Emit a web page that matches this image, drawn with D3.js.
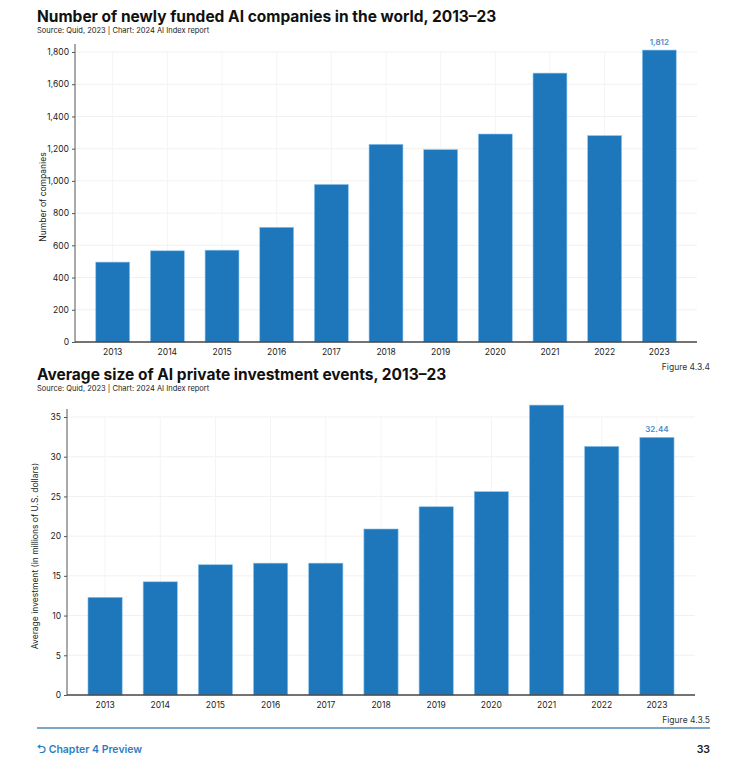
<!DOCTYPE html>
<html>
<head>
<meta charset="utf-8">
<script src="https://cdn.jsdelivr.net/npm/d3@7"></script>
<style>
  body { margin: 0; background: #fff; font-family: Inter, "Open Sans", sans-serif; }
</style>
</head>
<body>
<svg width="740" height="778"></svg>
<script>
// data
const years = ["2013","2014","2015","2016","2017","2018","2019","2020","2021","2022","2023"];
const companies = [496, 566, 570, 712, 978, 1227, 1194, 1291, 1669, 1281, 1812];
const avgInvestment = [12.3, 14.25, 16.4, 16.6, 16.6, 20.9, 23.7, 25.6, 36.5, 31.3, 32.44];
const companyTicks = [0, 200, 400, 600, 800, 1000, 1200, 1400, 1600, 1800];
const investTicks = [0, 5, 10, 15, 20, 25, 30, 35];

const svg = d3.select("svg");
const barColor = "#1f77bb";
const labelColor = "#4a8ac8";

// draws one bar chart panel
function drawPanel(opt) {
  const g = svg.append("g");
  g.append("text").attr("x", opt.titleX).attr("y", opt.titleY)
    .attr("font-size", 15.5).attr("font-weight", 700).attr("fill", "#111")
    .text(opt.title);
  g.append("text").attr("x", opt.titleX).attr("y", opt.titleY + 11)
    .attr("font-size", 7.5).attr("fill", "#222")
    .text("Source: Quid, 2023 | Chart: 2024 AI Index report");

  const x = d3.scaleBand().domain(years).range([opt.left, opt.right]).padding(0.38);
  const y = d3.scaleLinear().domain(opt.domain).range([opt.bottom, opt.top]);

  // faint gridlines
  g.selectAll(".grid").data(opt.ticks.slice(1)).join("line")
    .attr("x1", opt.left).attr("x2", opt.right)
    .attr("y1", d => y(d)).attr("y2", d => y(d))
    .attr("stroke", "#f1f1f1");
  g.selectAll(".vgrid").data(years).join("line")
    .attr("x1", d => x(d) + x.bandwidth() / 2).attr("x2", d => x(d) + x.bandwidth() / 2)
    .attr("y1", opt.top).attr("y2", opt.bottom)
    .attr("stroke", "#f4f4f4");

  g.selectAll(".bar").data(opt.values).join("rect")
    .attr("x", (d, i) => x(years[i]))
    .attr("y", d => y(d))
    .attr("width", x.bandwidth())
    .attr("height", d => opt.bottom - y(d))
    .attr("fill", barColor)
    .attr("stroke", "#8cc4ee").attr("stroke-width", 0.6);

  const last = opt.values.length - 1;
  g.append("text")
    .attr("x", x(years[last]) + x.bandwidth() / 2)
    .attr("y", y(opt.values[last]) - 5)
    .attr("text-anchor", "middle").attr("font-size", 8).attr("font-weight", 600)
    .attr("fill", labelColor).text(opt.labelFmt(opt.values[last]));

  const yAxis = g.append("g").attr("transform", `translate(${opt.left},0)`)
    .call(d3.axisLeft(y).tickValues(opt.ticks).tickFormat(d3.format(",")).tickSize(3).tickPadding(3));
  yAxis.select(".domain").attr("stroke", "#555").attr("d", `M0,${opt.bottom}V${opt.top - 8}`);
  yAxis.selectAll(".tick line").attr("stroke", "#555");
  yAxis.selectAll("text").attr("font-size", 8.5).attr("fill", "#222").attr("font-family", "Inter, sans-serif");

  const xAxis = g.append("g").attr("transform", `translate(0,${opt.bottom})`)
    .call(d3.axisBottom(x).tickSize(0).tickPadding(7));
  xAxis.select(".domain").attr("stroke", "#444").attr("stroke-width", 1.3)
    .attr("d", `M${opt.left},0H${opt.right}`);
  xAxis.selectAll("text").attr("font-size", 8.5).attr("fill", "#222").attr("font-family", "Inter, sans-serif");

  g.append("text")
    .attr("transform", `translate(${opt.left - 29},${(opt.top + opt.bottom) / 2}) rotate(-90)`)
    .attr("text-anchor", "middle").attr("font-size", 8.5).attr("fill", "#222")
    .text(opt.yLabel);

  g.append("text").attr("x", 710).attr("y", opt.bottom + 28)
    .attr("text-anchor", "end").attr("font-size", 8.5).attr("fill", "#333")
    .text(opt.figure);
}

drawPanel({
  title: "Number of newly funded AI companies in the world, 2013–23",
  titleX: 37, titleY: 22,
  left: 75, right: 697, top: 52, bottom: 342,
  domain: [0, 1800], ticks: companyTicks, values: companies,
  labelFmt: d3.format(","),
  yLabel: "Number of companies", figure: "Figure 4.3.4"
});

drawPanel({
  title: "Average size of AI private investment events, 2013–23",
  titleX: 37, titleY: 380,
  left: 67, right: 695, top: 417, bottom: 695,
  domain: [0, 35], ticks: investTicks, values: avgInvestment,
  labelFmt: d3.format(".2f"),
  yLabel: "Average investment (in millions of U.S. dollars)", figure: "Figure 4.3.5"
});

// page footer
svg.append("line").attr("x1", 37).attr("x2", 710).attr("y1", 728).attr("y2", 728)
  .attr("stroke", "#7aa7c4").attr("stroke-width", 2);
svg.append("text").attr("x", 37).attr("y", 753).attr("font-size", 10.5).attr("font-weight", 600)
  .attr("fill", "#2d7dbf").text("⮌ Chapter 4 Preview");
svg.append("text").attr("x", 710).attr("y", 753).attr("text-anchor", "end")
  .attr("font-size", 10.5).attr("font-weight", 600).attr("fill", "#222").text("33");
</script>
</body>
</html>
